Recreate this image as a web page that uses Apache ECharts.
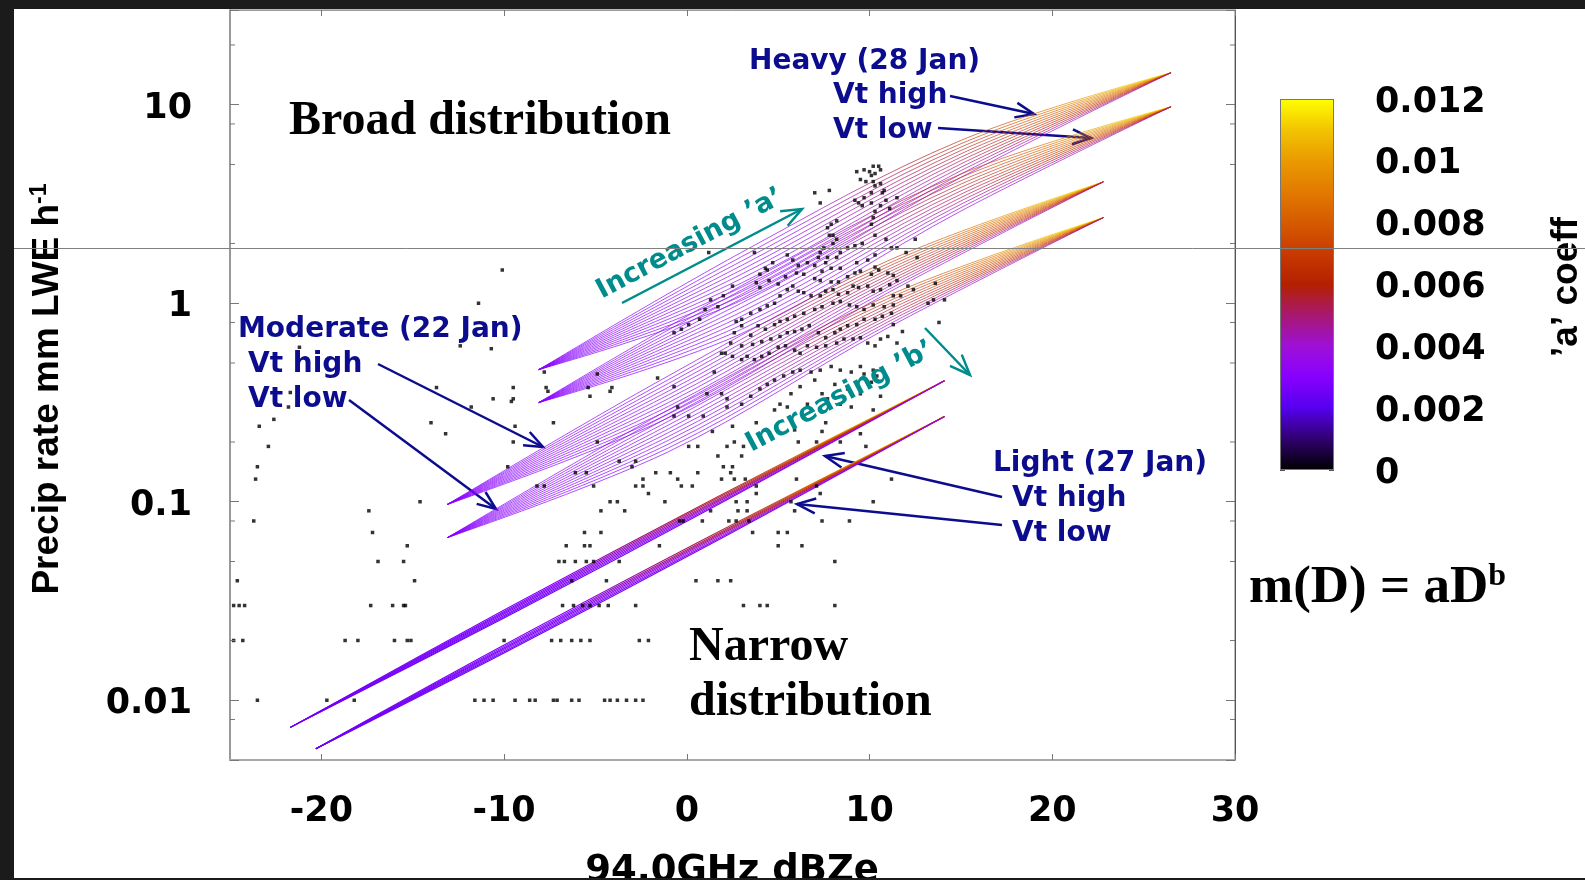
<!DOCTYPE html>
<html>
<head>
<meta charset="utf-8">
<script src="https://cdn.jsdelivr.net/npm/echarts@6/dist/echarts.min.js"></script>
<style>
html,body{margin:0;padding:0;background:#fff;}
#chart{width:1585px;height:880px;}
</style>
</head>
<body>
<div id="chart"></div>
<script>
// Observed 94 GHz reflectivity (dBZe) against precipitation rate (mm LWE/h)
const obsPoints = [
  [9.3,4.6],[9.7,4.7],[10.0,4.6],[10.2,4.9],[10.5,4.9],[10.6,4.7],[10.1,4.4],[10.3,4.5],[9.5,4.2],[9.8,4.1],
  [10.2,4.1],[10.6,4.0],[10.8,3.7],[10.7,3.6],[10.3,3.9],[10.1,3.6],[7.0,3.6],[7.8,3.7],[7.3,3.2],[9.2,3.3],
  [9.4,3.2],[9.7,3.4],[10.1,3.2],[10.6,3.1],[10.9,3.3],[11.1,3.0],[11.5,3.4],[10.3,2.9],[9.6,3.1],[10.2,2.7],
  [10.1,2.5],[7.9,2.5],[8.2,2.6],[7.7,2.4],[8.0,2.2],[7.8,2.2],[8.2,2.1],[8.0,2.0],[7.5,1.9],[7.3,1.8],
  [7.7,1.7],[7.2,1.7],[7.6,1.6],[8.2,1.7],[8.4,1.8],[8.8,1.9],[9.2,1.95],[9.6,2.0],[10.3,2.2],[10.9,2.1],
  [11.2,1.9],[11.5,1.9],[12.0,1.8],[12.5,2.1],[12.6,1.7],[10.3,1.75],[9.9,1.65],[9.3,1.6],[8.4,1.5],[7.9,1.5],
  [7.4,1.45],[7.0,1.55],[6.6,1.6],[6.1,1.55],[5.8,1.65],[5.5,1.75],[4.7,1.6],[4.3,1.5],[4.0,1.4],[3.8,1.27],
  [4.0,1.2],[4.5,1.3],[5.0,1.25],[5.4,1.36],[6.0,1.42],[6.4,1.4],[7.0,1.33],[7.3,1.3],[7.9,1.28],[8.3,1.28],
  [8.8,1.36],[9.2,1.42],[9.5,1.45],[10.1,1.4],[10.3,1.52],[10.5,1.47],[11.0,1.42],[11.3,1.38],[11.5,1.3],[11.1,1.24],
  [10.6,1.17],[10.2,1.15],[9.9,1.22],[9.4,1.2],[9.1,1.22],[8.8,1.13],[8.3,1.11],[8.0,1.17],[7.6,1.15],[7.3,1.09],
  [6.8,1.09],[6.4,1.13],[6.1,1.15],[5.8,1.22],[5.5,1.17],[5.1,1.09],[4.8,1.0],[4.4,0.97],[4.0,0.93],[3.5,0.89],
  [3.0,0.83],[2.7,0.81],[3.0,0.77],[2.6,0.71],[3.5,0.69],[3.9,0.77],[4.3,0.74],[4.8,0.78],[5.1,0.81],[5.5,0.83],
  [5.9,0.86],[6.4,0.89],[7.0,0.93],[7.4,0.96],[8.0,1.0],[8.4,1.02],[8.9,0.98],[9.3,0.96],[9.7,0.93],[10.2,0.98],
  [10.8,0.96],[11.3,0.98],[11.2,0.89],[10.7,0.86],[10.3,0.83],[9.7,0.83],[9.3,0.78],[8.8,0.77],[8.4,0.74],[8.1,0.71],
  [7.6,0.67],[7.2,0.71],[6.7,0.77],[6.3,0.74],[5.9,0.72],[5.5,0.71],[5.1,0.68],[4.6,0.66],[4.1,0.64],[3.6,0.62],
  [3.0,0.61],[2.4,0.63],[2.1,0.56],[2.5,0.54],[3.0,0.52],[3.3,0.54],[3.7,0.52],[4.1,0.54],[4.5,0.56],[5.0,0.6],
  [5.4,0.61],[5.9,0.58],[6.2,0.56],[6.6,0.61],[7.1,0.6],[7.6,0.61],[8.2,0.63],[8.6,0.66],[9.1,0.66],[9.5,0.67],
  [9.9,0.63],[10.3,0.61],[10.6,0.66],[11.0,0.68],[11.5,0.63],[11.8,0.72],[11.3,0.78],[1.9,0.56],[1.5,0.45],[1.9,0.35],
  [2.2,0.33],[3.0,0.31],[3.5,0.34],[4.0,0.37],[4.4,0.39],[4.8,0.41],[5.3,0.43],[5.8,0.45],[6.2,0.46],[6.8,0.45],
  [7.3,0.46],[7.9,0.48],[8.4,0.46],[9.0,0.45],[9.5,0.48],[9.7,0.44],[10.2,0.46],[10.4,0.43],[10.1,0.4],[10.6,0.34],
  [9.5,0.35],[8.8,0.37],[8.1,0.39],[7.4,0.35],[7.0,0.41],[6.2,0.38],[5.7,0.35],[5.1,0.31],[4.8,0.29],[5.5,0.3],
  [6.6,0.31],[7.7,0.33],[8.4,0.31],[9.0,0.3],[10.2,0.29],[1.1,0.35],[-0.7,0.38],[-0.5,0.3],[-1.6,0.42],[1.3,1.04],
  [1.2,1.8],[3.7,1.8],[4.4,1.47],[2.5,1.22],[2.0,1.09],[1.7,0.96],[1.0,0.93],[0.7,0.83],[0.1,0.78],[-0.3,0.74],
  [-0.7,0.71],[13.2,1.0],[13.5,1.04],[13.6,1.26],[12.4,1.17],[12.1,1.22],[11.7,1.09],[11.3,1.09],[13.8,0.8],[14.1,1.04],
  [-4.2,0.36],[-10.1,1.47],[-11.4,1.0],[-10.7,0.59],[-21.2,0.6],[-12.4,0.61],[-13.7,0.376],[-9.5,0.376],[-7.7,0.376],[-5.4,0.376],
  [-4.1,0.376],[-21.7,0.355],[-7.6,0.36],[-10.6,0.33],[-9.5,0.33],[-9.6,0.32],[-5.3,0.34],[-4.9,0.44],[-7.8,0.45],[-21.8,0.3],
  [-11.8,0.3],[2.2,0.3],[-0.7,0.27],[0.1,0.27],[0.9,0.27],[-22.6,0.26],[-14.0,0.25],[-7.3,0.25],[3.8,0.25],[7.6,0.25],
  [-23.4,0.24],[-9.4,0.24],[2.5,0.24],[5.9,0.23],[1.4,0.226],[7.4,0.226],[-13.2,0.22],[9.5,0.22],[-9.5,0.2],[-4.9,0.2],
  [2.6,0.2],[6.1,0.2],[7.1,0.2],[8.4,0.2],[-22.9,0.19],[0.1,0.19],[0.6,0.19],[2.2,0.19],[3.1,0.19],[9.8,0.19],
  [1.7,0.17],[3.0,0.17],[-3.7,0.16],[-2.8,0.16],[-23.5,0.15],[-9.8,0.15],[-3.0,0.15],[2.0,0.15],[2.5,0.15],[-6.1,0.14],
  [-5.5,0.14],[-1.7,0.14],[-0.9,0.14],[0.6,0.14],[2.4,0.14],[-23.6,0.13],[-2.4,0.13],[-0.5,0.13],[1.9,0.13],[2.6,0.13],
  [3.2,0.13],[6.0,0.13],[11.2,0.13],[-8.2,0.12],[-7.8,0.12],[-5.1,0.12],[-2.8,0.12],[-2.4,0.12],[-0.3,0.12],[0.3,0.12],
  [3.8,0.12],[7.1,0.12],[-2.1,0.11],[3.8,0.11],[7.3,0.11],[-14.6,0.1],[-4.2,0.1],[-3.8,0.1],[-1.2,0.1],[2.7,0.1],
  [3.3,0.1],[5.7,0.1],[10.2,0.1],[-17.4,0.09],[-4.7,0.09],[-3.4,0.09],[1.3,0.09],[2.8,0.09],[3.3,0.09],[5.9,0.09],
  [-23.7,0.08],[-0.4,0.08],[-0.2,0.08],[0.85,0.08],[2.3,0.08],[2.7,0.08],[3.4,0.08],[7.4,0.08],[8.9,0.08],[-17.2,0.07],
  [-5.6,0.07],[-4.7,0.07],[3.6,0.07],[5.0,0.07],[5.5,0.07],[-15.3,0.06],[-6.6,0.06],[-5.6,0.06],[-5.3,0.06],[-1.5,0.06],
  [5.0,0.06],[6.3,0.06],[-16.9,0.05],[-15.5,0.05],[-7.0,0.05],[-6.7,0.05],[-6.1,0.05],[-5.5,0.05],[-5.1,0.05],[-3.7,0.05],
  [8.1,0.05],[-24.6,0.04],[-14.9,0.04],[-6.3,0.04],[-4.4,0.04],[0.5,0.04],[1.7,0.04],[2.4,0.04],[-24.8,0.03],[-24.5,0.03],
  [-24.2,0.03],[-17.3,0.03],[-16.1,0.03],[-15.5,0.03],[-15.4,0.03],[-6.8,0.03],[-6.2,0.03],[-5.7,0.03],[-5.3,0.03],[-4.8,0.03],
  [-4.3,0.03],[-2.8,0.03],[3.1,0.03],[4.0,0.03],[4.4,0.03],[8.1,0.03],[-24.8,0.02],[-24.3,0.02],[-18.7,0.02],[-18.0,0.02],
  [-16.0,0.02],[-15.3,0.02],[-15.1,0.02],[-10.0,0.02],[-7.4,0.02],[-6.9,0.02],[-6.3,0.02],[-5.8,0.02],[-5.3,0.02],[-2.6,0.02],
  [-2.1,0.02],[-23.5,0.01],[-19.7,0.01],[-18.2,0.01],[-11.6,0.01],[-11.1,0.01],[-10.6,0.01],[-9.4,0.01],[-8.6,0.01],[-8.3,0.01],
  [-7.3,0.01],[-7.1,0.01],[-6.3,0.01],[-5.9,0.01],[-4.5,0.01],[-4.2,0.01],[-3.8,0.01],[-3.3,0.01],[-2.8,0.01],[-2.4,0.01]
];

// Axis ticks and labels
const xTicks = [-20, -10, 0, 10, 20, 30];
const yTickLabels = ['0.01', '0.1', '1', '10'];
const yMinorTicks = [0.008, 0.02, 0.05, 0.08, 0.2, 0.5, 0.8, 2, 5, 8, 20];
const aTickLabels = ['0', '0.002', '0.004', '0.006', '0.008', '0.01', '0.012'];

// Colour table for the 'a' coefficient
const aColorStops = [
  [0, '#000000'], [0.001, '#300070'], [0.002, '#5500ee'], [0.003, '#8800ff'],
  [0.004, '#9e10d8'], [0.005, '#a81870'], [0.006, '#b42000'], [0.007, '#c83a00'],
  [0.008, '#d65a00'], [0.009, '#e27a00'], [0.010, '#ea9a00'], [0.011, '#f2c400'], [0.012, '#ffff00']
];

// m(D) = aD^b curves: reflectivity stations, shared end values, and interior values per curve
const heavyStations = [-8.1, 3, 15, 26.5];
const heavyHighEnds = [0.463, 14.5];
const heavyHighLines = [[1.805,6.612],[1.716,6.360],[1.631,6.116],[1.550,5.882],[1.474,5.657],[1.401,5.441],[1.332,5.232],[1.266,5.031],[1.204,4.839],[1.144,4.654],[1.088,4.475],[1.034,4.303]];
const heavyLowEnds = [0.316, 9.77];
const heavyLowLines = [[1.227,4.475],[1.166,4.303],[1.109,4.140],[1.054,3.981],[1.002,3.828],[0.9526,3.682],[0.9055,3.541],[0.8610,3.406],[0.8185,3.276],[0.7780,3.151],[0.7397,3.030],[0.7034,2.914]];

const moderateStations = [-13.1, -1, 11, 22.8];
const moderateHighEnds = [0.097, 4.09];
const moderateHighLines = [[0.4312,1.635],[0.4125,1.580],[0.3947,1.528],[0.3776,1.477],[0.3612,1.428],[0.3456,1.381],[0.3307,1.335],[0.3163,1.291],[0.3026,1.248],[0.2894,1.207],[0.2769,1.167],[0.2650,1.128]];
const moderateLowEnds = [0.066, 2.70];
const moderateLowLines = [[0.2909,1.090],[0.2783,1.054],[0.2662,1.019],[0.2547,0.9849],[0.2436,0.9524],[0.2331,0.9207],[0.2230,0.8901],[0.2133,0.8605],[0.2041,0.8321],[0.1953,0.8045],[0.1868,0.7779],[0.1787,0.7520]];

const lightHighStations = [-21.7, -10, 2, 14.1];
const lightHighEnds = [0.0073, 0.407];
const lightHighLines = [[0.02845,0.1097],[0.02801,0.1080],[0.02758,0.1063],[0.02716,0.1047],[0.02675,0.1031],[0.02634,0.1015],[0.02594,0.09998]];
const lightLowStations = [-20.3, -10, 2, 14.1];
const lightLowEnds = [0.0057, 0.2685];
const lightLowLines = [[0.01897,0.07262],[0.01868,0.07151],[0.01839,0.07042],[0.01811,0.06934],[0.01783,0.06828],[0.01756,0.06724],[0.01729,0.06621]];

// 'a' at the low and high reflectivity end of each curve
const broadStartA = 0.003;
const broadEndA = [0.012,0.0116,0.0112,0.0107,0.0102,0.0096,0.009,0.0083,0.0075,0.0066,0.0056,0.0046];
const lightStartA = 0.0025;
const lightEndA = [0.012,0.011,0.0095,0.008,0.0065,0.005,0.0035];

// ---------- helpers ----------
function hexToRgb(h) {
  return [parseInt(h.slice(1,3),16), parseInt(h.slice(3,5),16), parseInt(h.slice(5,7),16)];
}
function aColor(a) {
  const s = aColorStops;
  if (a <= s[0][0]) return s[0][1];
  for (let i = 1; i < s.length; i++) {
    if (a <= s[i][0]) {
      const t = (a - s[i-1][0]) / (s[i][0] - s[i-1][0]);
      const c0 = hexToRgb(s[i-1][1]), c1 = hexToRgb(s[i][1]);
      const c = c0.map((v, k) => Math.round(v + (c1[k] - v) * t));
      return 'rgb(' + c.join(',') + ')';
    }
  }
  return s[s.length-1][1];
}
// colour runs along each curve as 'a' grows with reflectivity
const rampPos = [0, 0.4, 0.6, 0.8, 1];
const rampFrac = [0, 0.05, 0.3, 0.65, 1];
function rampStops(a0, a1) {
  return rampPos.map((p, k) => ({ offset: p, color: aColor(a0 + (a1 - a0) * rampFrac[k]) }));
}
function family(stations, ends, lines, startA, endA, width) {
  return lines.map((l, i) => ({
    type: 'line', xAxisIndex: 0, yAxisIndex: 0, symbol: 'none', smooth: 0.35,
    silent: true, z: 2, animation: false, emphasis: { disabled: true },
    data: [[stations[0], ends[0]], [stations[1], l[0]], [stations[2], l[1]], [stations[3], ends[1]]],
    lineStyle: { width: width, color: new echarts.graphic.LinearGradient(0, 0, 1, 0, rampStops(startA, endA[i])) }
  }));
}
function arrow(x1, y1, x2, y2, color, width, head) {
  const ang = Math.atan2(y2 - y1, x2 - x1);
  const spread = 0.38;
  return {
    type: 'group', z: 50,
    children: [
      { type: 'line', shape: { x1: x1, y1: y1, x2: x2, y2: y2 }, style: { stroke: color, lineWidth: width } },
      { type: 'polyline', shape: { points: [
          [x2 - head * Math.cos(ang - spread), y2 - head * Math.sin(ang - spread)],
          [x2, y2],
          [x2 - head * Math.cos(ang + spread), y2 - head * Math.sin(ang + spread)]
        ] }, style: { stroke: color, lineWidth: width, fill: null } }
    ]
  };
}

const SANS = '"DejaVu Sans", sans-serif';
const NARROW = '"Liberation Sans", Arial, sans-serif';
const SERIF = '"Liberation Serif", "Times New Roman", serif';
const NAVY = '#0c0c8e';
const TEAL = '#008c8c';

function label(text, x, y, opts) {
  return {
    type: 'text', x: x, y: y, z: 60, rotation: (opts && opts.rot) || 0,
    style: Object.assign({
      text: text, font: 'bold 28px ' + SANS, fill: NAVY,
      align: 'left', verticalAlign: 'middle'
    }, (opts && opts.style) || {})
  };
}

const chart = echarts.init(document.getElementById('chart'), null, { renderer: 'canvas' });

const series = [].concat(
  family(heavyStations, heavyHighEnds, heavyHighLines, broadStartA, broadEndA, 0.7),
  family(heavyStations, heavyLowEnds, heavyLowLines, broadStartA, broadEndA, 0.7),
  family(moderateStations, moderateHighEnds, moderateHighLines, broadStartA, broadEndA, 0.7),
  family(moderateStations, moderateLowEnds, moderateLowLines, broadStartA, broadEndA, 0.7),
  family(lightHighStations, lightHighEnds, lightHighLines, lightStartA, lightEndA, 1.1),
  family(lightLowStations, lightLowEnds, lightLowLines, lightStartA, lightEndA, 1.1)
);

series.push({
  type: 'scatter', xAxisIndex: 0, yAxisIndex: 0, data: obsPoints,
  symbol: 'rect', symbolSize: 3.5, itemStyle: { color: '#000' },
  silent: true, z: 5, animation: false
});

// minor ticks at 2, 5 and 8 of each decade, on both vertical edges
series.push({
  type: 'custom', xAxisIndex: 0, yAxisIndex: 0, silent: true, z: 6, animation: false,
  data: yMinorTicks.map(v => [-25, v]),
  renderItem: function (params, api) {
    const v = api.value(1);
    const pl = api.coord([-25, v]);
    const pr = api.coord([30, v]);
    return {
      type: 'group', children: [
        { type: 'line', shape: { x1: pl[0], y1: pl[1], x2: pl[0] + 5, y2: pl[1] }, style: { stroke: '#777', lineWidth: 1 } },
        { type: 'line', shape: { x1: pr[0] - 5, y1: pr[1], x2: pr[0], y2: pr[1] }, style: { stroke: '#777', lineWidth: 1 } }
      ]
    };
  }
});

// colour bar
series.push({
  type: 'bar', xAxisIndex: 1, yAxisIndex: 2, data: [0.012], barWidth: '100%',
  silent: true, animation: false,
  itemStyle: {
    borderColor: '#777', borderWidth: 1,
    color: new echarts.graphic.LinearGradient(0, 0, 0, 1,
      aColorStops.slice().reverse().map(s => ({ offset: 1 - s[0] / 0.012, color: s[1] })))
  }
});

const tickFont = { fontFamily: SANS, fontWeight: 'bold', fontSize: 35, color: '#000' };
// glyphs sit a few pixels below the tick, so each label carries top padding
const shiftedRich = function (pad) {
  return { v: { fontFamily: SANS, fontWeight: 'bold', fontSize: 35, color: '#000', padding: [pad, 0, 0, 0] } };
};

const option = {
  animation: false,
  backgroundColor: '#ffffff',
  grid: [
    { left: 230, top: 10, width: 1005, height: 750, show: true, borderColor: '#777', borderWidth: 1, containLabel: false, outerBoundsMode: 'none' },
    { left: 1280, top: 99, width: 54, height: 371, show: false, containLabel: false, outerBoundsMode: 'none' }
  ],
  xAxis: [
    {
      gridIndex: 0, type: 'value', min: -25, max: 30, position: 'bottom',
      axisLine: { show: true, onZero: false, lineStyle: { color: '#aaa', width: 2 } },
      axisTick: { show: true, inside: true, length: 6, customValues: xTicks, lineStyle: { color: '#777' } },
      axisLabel: Object.assign({ customValues: xTicks, margin: 34 }, tickFont),
      splitLine: { show: false }
    },
    { gridIndex: 1, type: 'category', data: ['a'], show: false },
    {
      gridIndex: 0, type: 'value', min: -25, max: 30, position: 'top',
      axisLine: { show: true, onZero: false, lineStyle: { color: '#999', width: 1 } },
      axisTick: { show: true, inside: true, length: 6, customValues: xTicks, lineStyle: { color: '#777' } },
      axisLabel: { show: false }, splitLine: { show: false }
    }
  ],
  yAxis: [
    {
      gridIndex: 0, type: 'log', logBase: 10, min: 0.005, max: 30, position: 'left',
      axisLine: { show: true, onZero: false, lineStyle: { color: '#999', width: 2 } },
      axisTick: { show: true, inside: true, length: 9, lineStyle: { color: '#777' } },
      axisLabel: Object.assign({
        margin: 38,
        rich: shiftedRich(8),
        formatter: function (v) {
          const e = Math.log10(v);
          const r = Math.round(e);
          if (Math.abs(e - r) > 1e-6) return '';
          const t = yTickLabels[r + 2];
          return t ? '{v|' + t + '}' : '';
        }
      }, tickFont),
      splitLine: { show: false }, minorTick: { show: false }
    },
    {
      gridIndex: 0, type: 'log', logBase: 10, min: 0.005, max: 30, position: 'right',
      axisLine: { show: true, onZero: false, lineStyle: { color: '#555', width: 1 } },
      axisTick: { show: true, inside: true, length: 9, lineStyle: { color: '#777' } },
      axisLabel: { show: false }, splitLine: { show: false }
    },
    {
      gridIndex: 1, type: 'value', min: 0, max: 0.012, interval: 0.002, position: 'right',
      axisLine: { show: false, onZero: false },
      axisTick: { show: true, inside: true, length: 5, lineStyle: { color: '#555' } },
      axisLabel: Object.assign({
        margin: 41, align: 'left',
        rich: shiftedRich(7),
        formatter: function (v) { return '{v|' + aTickLabels[Math.round(v / 0.002)] + '}'; }
      }, tickFont),
      splitLine: { show: false }
    },
    {
      gridIndex: 1, type: 'value', min: 0, max: 0.012, interval: 0.002, position: 'left',
      axisLine: { show: false, onZero: false },
      axisTick: { show: true, inside: true, length: 5, lineStyle: { color: '#555' } },
      axisLabel: { show: false }, splitLine: { show: false }
    }
  ],
  series: series,
  graphic: [
    // screen frame
    { type: 'rect', z: 90, shape: { x: 0, y: 0, width: 1585, height: 9 }, style: { fill: '#1b1b1b' } },
    { type: 'rect', z: 90, shape: { x: 0, y: 0, width: 14, height: 880 }, style: { fill: '#1b1b1b' } },
    { type: 'rect', z: 90, shape: { x: 0, y: 878, width: 1585, height: 2 }, style: { fill: '#1b1b1b' } },
    // horizontal guide line
    { type: 'line', z: 80, shape: { x1: 14, y1: 248.5, x2: 1585, y2: 248.5 }, style: { stroke: '#808080', lineWidth: 1 } },

    // axis titles
    {
      type: 'text', x: 48, y: 389, rotation: Math.PI / 2, z: 60,
      style: {
        text: '{m|Precip rate mm LWE h}{s|-1}', align: 'center', verticalAlign: 'middle',
        rich: {
          m: { font: 'bold 37px ' + NARROW, fill: '#000', lineHeight: 40 },
          s: { font: 'bold 23px ' + NARROW, fill: '#000', verticalAlign: 'top', lineHeight: 40 }
        }
      }
    },
    label('94.0GHz dBZe', 732, 871, { style: { font: 'bold 37px ' + SANS, fill: '#000', align: 'center' } }),
    label('\u2019a\u2019 coeff', 1567, 287, { rot: Math.PI / 2, style: { font: 'bold 37px ' + NARROW, fill: '#000', align: 'center' } }),

    // regime labels
    label('Broad distribution', 289, 122, { style: { font: 'bold 48px ' + SERIF, fill: '#000' } }),
    label('Narrow', 689, 648, { style: { font: 'bold 48px ' + SERIF, fill: '#000' } }),
    label('distribution', 689, 703, { style: { font: 'bold 48px ' + SERIF, fill: '#000' } }),
    {
      type: 'text', x: 1249, y: 588, z: 60,
      style: {
        text: '{n|m(D) = aD}{s|b}', align: 'left', verticalAlign: 'middle',
        rich: {
          n: { font: 'bold 53px ' + SERIF, fill: '#000', lineHeight: 54 },
          s: { font: 'bold 32px ' + SERIF, fill: '#000', verticalAlign: 'top', lineHeight: 54 }
        }
      }
    },

    // case labels
    label('Heavy (28 Jan)', 749, 62),
    label('Vt high', 833, 96),
    label('Vt low', 833, 131),
    label('Moderate (22 Jan)', 238, 330),
    label('Vt high', 248, 365),
    label('Vt low', 248, 400),
    label('Light (27 Jan)', 993, 464),
    label('Vt high', 1012, 499),
    label('Vt low', 1012, 534),

    arrow(950, 96, 1034, 114, NAVY, 2.5, 20),
    arrow(938, 128, 1091, 138, NAVY, 2.5, 20),
    arrow(378, 364, 543, 447, NAVY, 2.5, 20),
    arrow(349, 400, 496, 509, NAVY, 2.5, 20),
    arrow(1002, 497, 825, 456, NAVY, 2.5, 20),
    arrow(1002, 525, 797, 504, NAVY, 2.5, 20),

    // parameter trend labels
    label('Increasing \u2019a\u2019', 690, 244, { rot: 28 * Math.PI / 180, style: { font: 'bold 27px ' + SANS, fill: TEAL, align: 'center' } }),
    label('Increasing \u2019b\u2019', 840, 397, { rot: 28 * Math.PI / 180, style: { font: 'bold 27px ' + SANS, fill: TEAL, align: 'center' } }),
    arrow(622, 303, 802, 209, TEAL, 2.5, 22),
    arrow(925, 328, 970, 375, TEAL, 2.5, 22)
  ]
};

chart.setOption(option);
</script>
</body>
</html>
